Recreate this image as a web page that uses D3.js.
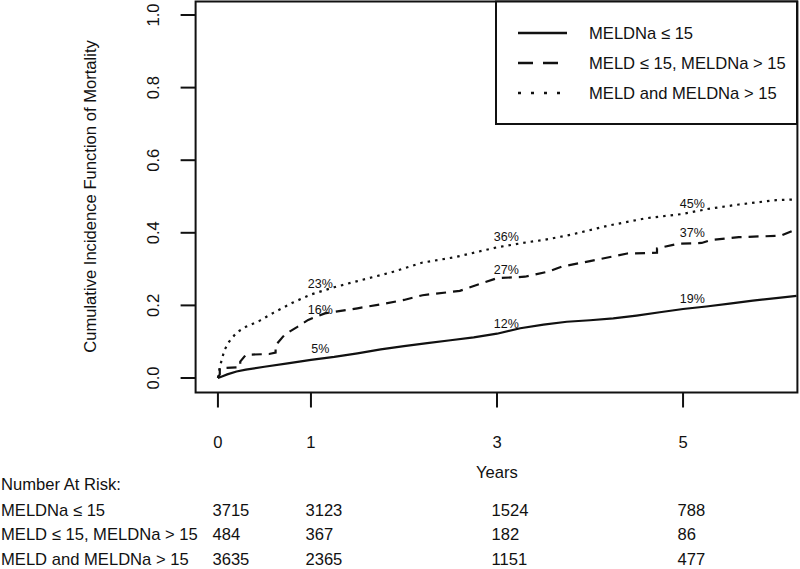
<!DOCTYPE html>
<html>
<head>
<meta charset="utf-8">
<script src="https://cdn.jsdelivr.net/npm/d3@7/dist/d3.min.js"></script>
<style>
  html, body { margin: 0; padding: 0; background: #fff; }
  svg { display: block; }
  text { font-family: "Liberation Sans", Arial, sans-serif; fill: #111; }
</style>
</head>
<body>
<svg id="chart" width="800" height="569"></svg>
<script>
// ---- Data ----
const seriesNames = ["MELDNa \u2264 15", "MELD \u2264 15, MELDNa > 15", "MELD and MELDNa > 15"];

const solidTimes  = [0, 0.05, 0.1, 0.2, 0.3, 0.5, 0.75, 1.0, 1.25, 1.5, 1.75, 2.0, 2.25, 2.5, 2.75, 3.0, 3.25, 3.5, 3.75, 4.0, 4.25, 4.5, 4.75, 5.0, 5.25, 5.5, 5.75, 6.0, 6.22];
const solidValues = [0, 0.005, 0.01, 0.018, 0.023, 0.031, 0.04, 0.05, 0.058, 0.068, 0.079, 0.088, 0.096, 0.104, 0.112, 0.122, 0.137, 0.147, 0.155, 0.159, 0.164, 0.172, 0.181, 0.19, 0.197, 0.205, 0.213, 0.22, 0.226];

// repeated times mark visible vertical jumps
const dashedTimes  = [0, 0.02, 0.02, 0.24, 0.24, 0.3, 0.55, 0.62, 0.62, 0.72, 0.85, 0.97, 1.15, 1.5, 1.8, 2.0, 2.2, 2.6, 2.85, 3.0, 3.3, 3.55, 3.7, 4.0, 4.25, 4.4, 4.72, 4.72, 4.95, 5.2, 5.3, 5.6, 6.05, 6.22];
const dashedValues = [0, 0.01, 0.027, 0.03, 0.045, 0.064, 0.066, 0.07, 0.09, 0.12, 0.14, 0.16, 0.178, 0.192, 0.205, 0.215, 0.228, 0.24, 0.262, 0.275, 0.279, 0.293, 0.307, 0.322, 0.335, 0.343, 0.345, 0.357, 0.37, 0.372, 0.38, 0.388, 0.392, 0.41];

const dottedTimes  = [0, 0.02, 0.07, 0.12, 0.2, 0.3, 0.45, 0.6, 0.8, 1.0, 1.25, 1.5, 1.85, 2.2, 2.55, 3.0, 3.35, 3.5, 3.8, 4.2, 4.6, 5.0, 5.25, 5.6, 6.0, 6.22];
const dottedValues = [0, 0.03, 0.077, 0.1, 0.125, 0.141, 0.158, 0.18, 0.207, 0.23, 0.25, 0.267, 0.29, 0.318, 0.333, 0.36, 0.375, 0.38, 0.395, 0.42, 0.44, 0.452, 0.465, 0.478, 0.49, 0.492];

// Percent annotations at selected years
const labelYears = [1, 3, 5];
const solidLabels  = [0.05, 0.12, 0.19];
const dashedLabels = [0.16, 0.27, 0.37];
const dottedLabels = [0.23, 0.36, 0.45];

// Axis ticks
const xTicks = [0, 1, 3, 5];
const yTicks = [0.0, 0.2, 0.4, 0.6, 0.8, 1.0];

// Number at risk table
const riskTitle = "Number At Risk:";
const riskSolid  = [3715, 3123, 1524, 788];
const riskDashed = [484, 367, 182, 86];
const riskDotted = [3635, 2365, 1151, 477];

// ---- Drawing ----
const svg = d3.select("#chart");
const plotL = 195.6, plotR = 798.4, plotT = 0.5, plotB = 392.5;

const x = d3.scaleLinear().domain([-0.24, 6.24]).range([plotL, plotR]);
const y = d3.scaleLinear().domain([-0.04, 1.04]).range([plotB, plotT]);

const FS = 16.6;
const lw = 2;

// plot box
svg.append("rect")
  .attr("x", plotL).attr("y", plotT + 1)
  .attr("width", plotR - plotL - 1).attr("height", plotB - plotT - 1)
  .attr("fill", "none").attr("stroke", "#111").attr("stroke-width", lw);

// y axis ticks
const yAxisG = svg.append("g");
yAxisG.selectAll("line").data(yTicks).join("line")
  .attr("x1", plotL).attr("x2", plotL - 15)
  .attr("y1", d => y(d)).attr("y2", d => y(d))
  .attr("stroke", "#111").attr("stroke-width", lw);
yAxisG.selectAll("text").data(yTicks).join("text")
  .attr("transform", d => `translate(159,${y(d)}) rotate(-90)`)
  .attr("text-anchor", "middle")
  .style("font-size", FS + "px")
  .text(d => d3.format(".1f")(d));

// y title
svg.append("text")
  .attr("transform", `translate(96,${(plotT + plotB) / 2}) rotate(-90)`)
  .attr("text-anchor", "middle")
  .style("font-size", FS + "px")
  .text("Cumulative Incidence Function of Mortality");

// x axis ticks
const xAxisG = svg.append("g");
xAxisG.selectAll("line").data(xTicks).join("line")
  .attr("x1", d => x(d)).attr("x2", d => x(d))
  .attr("y1", plotB).attr("y2", plotB + 15)
  .attr("stroke", "#111").attr("stroke-width", lw);
xAxisG.selectAll("text").data(xTicks).join("text")
  .attr("x", d => x(d)).attr("y", 448)
  .attr("text-anchor", "middle")
  .style("font-size", FS + "px")
  .text(d => d);

svg.append("text")
  .attr("x", (plotL + plotR) / 2).attr("y", 478)
  .attr("text-anchor", "middle")
  .style("font-size", FS + "px")
  .text("Years");

// curves
svg.append("clipPath").attr("id", "clip")
  .append("rect").attr("x", plotL).attr("y", plotT).attr("width", plotR - plotL).attr("height", plotB - plotT);

const lineLinear = d3.line().x(d => x(d[0])).y(d => y(d[1])).curve(d3.curveLinear);
const series = [
  { t: solidTimes,  v: solidValues,  dash: null,    labels: solidLabels },
  { t: dashedTimes, v: dashedValues, dash: "10,7",  labels: dashedLabels },
  { t: dottedTimes, v: dottedValues, dash: "2.5,5", labels: dottedLabels }
];
const curvesG = svg.append("g").attr("clip-path", "url(#clip)");
series.forEach(s => {
  const pts = s.t.map((t, i) => [t, s.v[i]]);
  curvesG.append("path")
    .attr("d", lineLinear(pts))
    .attr("fill", "none")
    .attr("stroke", "#111")
    .attr("stroke-width", 2.2)
    .attr("stroke-dasharray", s.dash);
});

// percent labels
series.forEach(s => {
  svg.append("g").selectAll("text").data(labelYears).join("text")
    .attr("x", (d) => x(d + 0.1))
    .attr("y", (d, i) => y(s.labels[i] + 0.03) + 4.5)
    .attr("text-anchor", "middle")
    .style("font-size", "12.5px")
    .text((d, i) => Math.round(s.labels[i] * 100) + "%");
});

// legend
const lg = svg.append("g");
lg.append("rect")
  .attr("x", 496).attr("y", 1.5).attr("width", 301).attr("height", 122.5)
  .attr("fill", "#fff").attr("stroke", "#111").attr("stroke-width", lw);
const legendDash = [null, "15,10", "3,10"];
seriesNames.forEach((name, i) => {
  const ly = 33 + i * 30;
  lg.append("line")
    .attr("x1", 518).attr("x2", 567).attr("y1", ly).attr("y2", ly)
    .attr("stroke", "#111").attr("stroke-width", 2.4)
    .attr("stroke-dasharray", legendDash[i]);
  lg.append("text")
    .attr("x", 589).attr("y", ly + 6)
    .style("font-size", FS + "px")
    .text(name);
});

// number at risk table
const tbl = svg.append("g");
tbl.append("text").attr("x", 1).attr("y", 490).style("font-size", FS + "px").text(riskTitle);
const riskRows = [riskSolid, riskDashed, riskDotted];
riskRows.forEach((row, r) => {
  const by = 515.5 + r * 24.5;
  tbl.append("text").attr("x", 1).attr("y", by).style("font-size", FS + "px").text(seriesNames[r]);
  tbl.append("g").selectAll("text").data(row).join("text")
    .attr("x", (d, i) => x(xTicks[i]) - 5.5)
    .attr("y", by)
    .style("font-size", FS + "px")
    .text(d => d);
});
</script>
</body>
</html>
